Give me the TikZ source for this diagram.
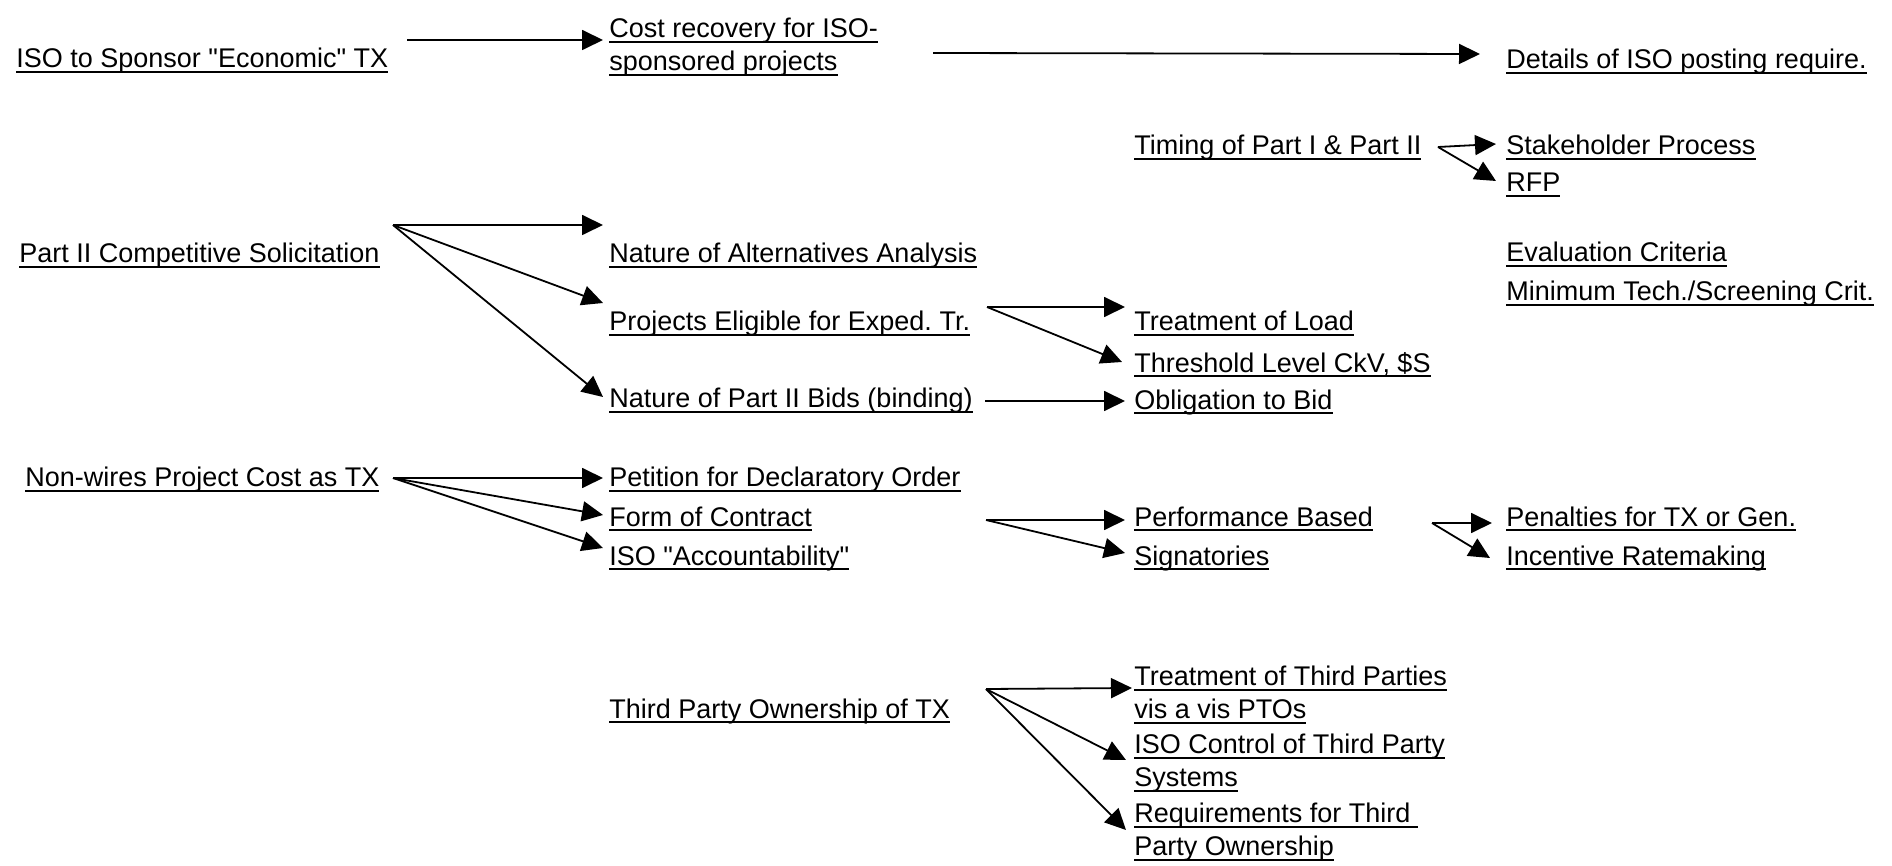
\documentclass[tikz,border=0pt]{standalone}
\usepackage{fontspec}
\setmainfont{Liberation Sans}
\usetikzlibrary{arrows.meta}
\newcommand{\ulbox}[1]{\setbox0=\hbox{#1}\rlap{\rule[-2.4pt]{\wd0}{1.1pt}}\box0}

\begin{document}
\begin{tikzpicture}[x = 0.5pt, y = -0.5pt,
		item/.style = {anchor = base west, inner sep = 0pt, font = \fontsize{13.5}{16.5}\selectfont\frenchspacing},
		twoline/.style = {item, anchor = north west, align = left},
		arr/.style = {-{Triangle[length = 10.5pt, width = 10pt]}, line width = 0.9pt}]
			\fill[white] (0, 0) rectangle (1892, 866);
			\useasboundingbox (0, 0) rectangle (1892, 866);
			% first column
			\node[item] (econ) at (16, 68) {\ulbox{ISO to Sponsor \textquotedbl Economic\textquotedbl\ TX}};
			\node[item] (compsol) at (19, 263) {\ulbox{Part II Competitive Solicitation}};
			\node[item] (nonwires) at (25, 487) {\ulbox{Non-wires Project Cost as TX}};
			% second column
			\node[twoline] (costrec) at (609, 18) {\ulbox{Cost recovery for ISO-}\\\ulbox{sponsored projects}};
			\node[item] (altan) at (609, 263) {\ulbox{Nature of Alternatives Analysis}};
			\node[item] (exped) at (609, 331) {\ulbox{Projects Eligible for Exped. Tr.}};
			\node[item] (bids) at (609, 408) {\ulbox{Nature of Part II Bids (binding)}};
			\node[item] (petition) at (609, 487) {\ulbox{Petition for Declaratory Order}};
			\node[item] (contract) at (609, 526) {\ulbox{Form of Contract}};
			\node[item] (account) at (609, 565) {\ulbox{ISO \textquotedbl Accountability\textquotedbl}};
			\node[item] (thirdown) at (609, 718) {\ulbox{Third Party Ownership of TX}};
			% third column
			\node[item] (timing) at (1134, 155) {\ulbox{Timing of Part I \& Part II}};
			\node[item] (load) at (1134, 331) {\ulbox{Treatment of Load}};
			\node[item] (thresh) at (1134, 372) {\ulbox{Threshold Level CkV, \$S}};
			\node[item] (oblig) at (1134, 409) {\ulbox{Obligation to Bid}};
			\node[item] (perf) at (1134, 526) {\ulbox{Performance Based}};
			\node[item] (signat) at (1134, 565) {\ulbox{Signatories}};
			\node[twoline] (thirdtreat) at (1134, 666) {\ulbox{Treatment of Third Parties}\\\ulbox{vis a vis PTOs}};
			\node[twoline] (isoctrl) at (1134, 734) {\ulbox{ISO Control of Third Party}\\\ulbox{Systems}};
			\node[twoline] (thirdreq) at (1134, 803) {\ulbox{Requirements for Third\ }\\\ulbox{Party Ownership}};
			% fourth column
			\node[item] (posting) at (1506, 69) {\ulbox{Details of ISO posting require.}};
			\node[item] (stake) at (1506, 155) {\ulbox{Stakeholder Process}};
			\node[item] (rfp) at (1506, 192) {\ulbox{RFP}};
			\node[item] (evalcrit) at (1506, 262) {\ulbox{Evaluation Criteria}};
			\node[item] (mintech) at (1506, 301) {\ulbox{Minimum Tech./Screening Crit.}};
			\node[item] (penal) at (1506, 526) {\ulbox{Penalties for TX or Gen.}};
			\node[item] (incent) at (1506, 565) {\ulbox{Incentive Ratemaking}};
			% where the arrows leave
			\coordinate (econ-out) at (407, 40);
			\coordinate (costrec-out) at (933, 53);
			\coordinate (timing-fan) at (1438, 147);
			\coordinate (compsol-fan) at (393, 225);
			\coordinate (exped-fan) at (987, 307);
			\coordinate (bids-out) at (985, 401);
			\coordinate (nonwires-fan) at (393, 478);
			\coordinate (contract-fan) at (986, 520);
			\coordinate (perf-fan) at (1432, 523);
			\coordinate (thirdown-fan) at (986, 689);
			% arrows
			\draw[arr] (econ-out) -- ([shift = {(-6, 22)}]costrec.north west);
			\draw[arr] (costrec-out) -- ([shift = {(-26, -15)}]posting.base west);
			\draw[arr] (timing-fan) -- ([shift = {(-10, -11)}]stake.base west);
			\draw[arr] (timing-fan) -- ([shift = {(-10, -11)}]rfp.base west);
			\draw[arr] (compsol-fan) -- ([shift = {(-6, -38)}]altan.base west);
			\draw[arr] (compsol-fan) -- ([shift = {(-6, -28)}]exped.base west);
			\draw[arr] (compsol-fan) -- ([shift = {(-6, -11)}]bids.base west);
			\draw[arr] (exped-fan) -- ([shift = {(-9, -24)}]load.base west);
			\draw[arr] (exped-fan) -- ([shift = {(-12, -10)}]thresh.base west);
			\draw[arr] (bids-out) -- ([shift = {(-9, -8)}]oblig.base west);
			\draw[arr] (nonwires-fan) -- ([shift = {(-6, -9)}]petition.base west);
			\draw[arr] (nonwires-fan) -- ([shift = {(-6, -11)}]contract.base west);
			\draw[arr] (nonwires-fan) -- ([shift = {(-6, -17)}]account.base west);
			\draw[arr] (contract-fan) -- ([shift = {(-9, -6)}]perf.base west);
			\draw[arr] (contract-fan) -- ([shift = {(-9, -12)}]signat.base west);
			\draw[arr] (perf-fan) -- ([shift = {(-14, -3)}]penal.base west);
			\draw[arr] (perf-fan) -- ([shift = {(-16, -7)}]incent.base west);
			\draw[arr] (thirdown-fan) -- ([shift = {(-2, 22)}]thirdtreat.north west);
			\draw[arr] (thirdown-fan) -- ([shift = {(-8, 26)}]isoctrl.north west);
			\draw[arr] (thirdown-fan) -- ([shift = {(-8, 27)}]thirdreq.north west);
		\end{tikzpicture}
\end{document}
